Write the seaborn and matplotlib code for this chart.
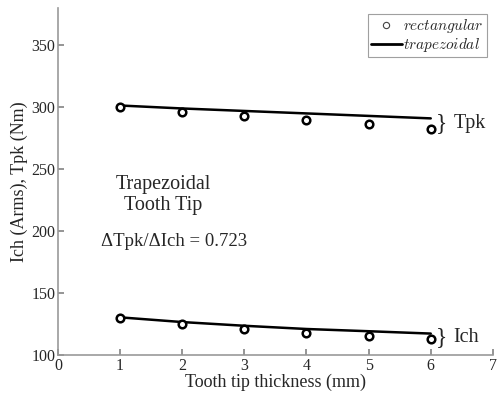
import matplotlib
matplotlib.use("Agg")
import matplotlib.pyplot as plt
import seaborn as sns
import pandas as pd
from matplotlib.lines import Line2D

thickness = [1, 2, 3, 4, 5, 6]
tpk_rect = [300.2, 296.2, 293.0, 290.0, 286.3, 282.5]
tpk_trap = [301.4, 299.0, 297.0, 295.0, 293.0, 291.0]
ich_rect = [130.1, 124.7, 121.0, 117.7, 115.3, 112.9]
ich_trap = [130.4, 126.6, 123.6, 121.0, 119.2, 117.3]
xticks = [0, 1, 2, 3, 4, 5, 6, 7]
yticks = [100, 150, 200, 250, 300, 350]

sns.set_theme(style="white")
plt.rcParams['font.family'] = ['Liberation Serif', 'DejaVu Serif']
plt.rcParams['mathtext.fontset'] = 'cm'

rect_df = pd.DataFrame({"x": thickness * 2, "y": tpk_rect + ich_rect,
                        "s": ["Tpk"] * 6 + ["Ich"] * 6})
trap_df = pd.DataFrame({"x": thickness * 2, "y": tpk_trap + ich_trap,
                        "s": ["Tpk"] * 6 + ["Ich"] * 6})

fig = plt.figure(figsize=(4.97, 3.96), dpi=100)
ax = fig.add_axes([0.1167, 0.1035, 0.875, 0.876])

sns.lineplot(data=trap_df, x="x", y="y", units="s", estimator=None,
             color="black", lw=1.8, ax=ax, legend=False)
sns.scatterplot(data=rect_df, x="x", y="y", marker="o", s=30,
                facecolor="white", edgecolor="black", linewidth=1.8,
                ax=ax, legend=False, zorder=3)

ax.set_xlim(0, 7)
ax.set_ylim(100, 380)
ax.set_xticks(xticks)
ax.set_yticks(yticks)
ax.tick_params(direction="in", length=4, color="#888888", labelsize=11.5,
               left=True, bottom=True, pad=2)
for s in ["top", "right"]:
    ax.spines[s].set_visible(False)
for s in ["left", "bottom"]:
    ax.spines[s].set_color("#999999")
    ax.spines[s].set_linewidth(1.2)

ax.set_xlabel("Tooth tip thickness (mm)", fontsize=13, labelpad=0)
ax.set_ylabel("Ich (Arms), Tpk (Nm)", fontsize=13, labelpad=2)

ax.text(6.08, 287, "}", fontsize=17, va="center", ha="left")
ax.text(6.37, 287, "Tpk", fontsize=14.5, va="center", ha="left")
ax.text(6.08, 114, "}", fontsize=17, va="center", ha="left")
ax.text(6.37, 114, "Ich", fontsize=14.5, va="center", ha="left")
ax.text(1.70, 229, "Trapezoidal\nTooth Tip", fontsize=14.5, ha="center",
        va="center", linespacing=1.15)
ax.text(1.87, 192, "\u0394Tpk/\u0394Ich = 0.723", fontsize=13.5, ha="center",
        va="center")

handles = [Line2D([], [], marker="o", ls="none", mfc="white", mec="#444444",
                  ms=4.5, mew=0.8),
           Line2D([], [], color="black", lw=2)]
leg = ax.legend(handles, [r"$\mathit{rectangular}$", r"$\mathit{trapezoidal}$"],
                loc="upper right", fontsize=11, frameon=True, fancybox=False,
                edgecolor="#888888", handlelength=2.0, handletextpad=0.1,
                borderpad=0.2, labelspacing=0.05, borderaxespad=0.4)
leg.get_frame().set_linewidth(0.8)

fig.savefig("out.png", dpi=100)
